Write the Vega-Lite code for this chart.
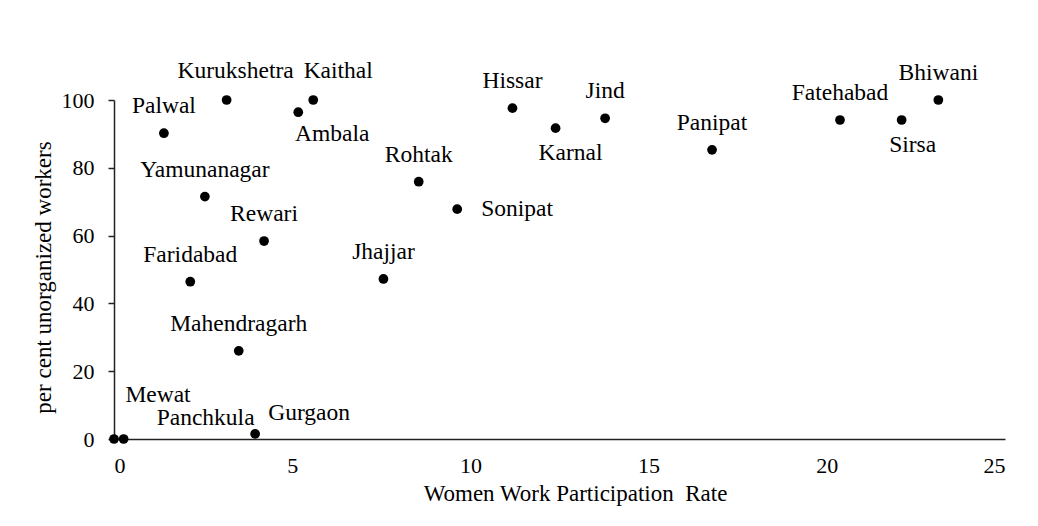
{
  "$schema": "https://vega.github.io/schema/vega-lite/v6.json",
  "width": 891,
  "height": 339,
  "autosize": {"type": "none"},
  "padding": {"left": 114, "top": 100, "right": 33, "bottom": 87},
  "background": "white",
  "config": {
    "view": {"stroke": null},
    "font": "Liberation Serif",
    "text": {"font": "Liberation Serif", "fontSize": 23.5, "color": "#000", "baseline": "alphabetic"},
    "axis": {
      "grid": false,
      "domainColor": "#222",
      "domainWidth": 1.5,
      "tickColor": "#222",
      "tickWidth": 1.5,
      "labelFont": "Liberation Serif",
      "titleFont": "Liberation Serif",
      "labelFontSize": 22,
      "titleFontSize": 23,
      "titleFontWeight": "normal",
      "labelColor": "#000",
      "titleColor": "#000"
    }
  },
  "data": {
    "values": [
      {"district": "Mewat", "wwpr": 0.0, "unorg": 0},
      {"district": "Panchkula", "wwpr": 0.27, "unorg": 0},
      {"district": "Palwal", "wwpr": 1.4, "unorg": 90.2},
      {"district": "Faridabad", "wwpr": 2.14, "unorg": 46.4},
      {"district": "Yamunanagar", "wwpr": 2.55, "unorg": 71.5},
      {"district": "Kurukshetra", "wwpr": 3.16, "unorg": 100},
      {"district": "Mahendragarh", "wwpr": 3.5, "unorg": 26.0},
      {"district": "Gurgaon", "wwpr": 3.96, "unorg": 1.5},
      {"district": "Rewari", "wwpr": 4.21, "unorg": 58.4},
      {"district": "Ambala", "wwpr": 5.17, "unorg": 96.4},
      {"district": "Kaithal", "wwpr": 5.59, "unorg": 100},
      {"district": "Jhajjar", "wwpr": 7.56, "unorg": 47.2},
      {"district": "Rohtak", "wwpr": 8.55, "unorg": 75.9},
      {"district": "Sonipat", "wwpr": 9.63, "unorg": 67.8},
      {"district": "Hissar", "wwpr": 11.18, "unorg": 97.6},
      {"district": "Karnal", "wwpr": 12.39, "unorg": 91.7},
      {"district": "Jind", "wwpr": 13.78, "unorg": 94.6},
      {"district": "Panipat", "wwpr": 16.78, "unorg": 85.3},
      {"district": "Fatehabad", "wwpr": 20.37, "unorg": 94.1},
      {"district": "Sirsa", "wwpr": 22.1, "unorg": 94.1},
      {"district": "Bhiwani", "wwpr": 23.13, "unorg": 100}
    ]
  },
  "encoding": {
    "x": {
      "field": "wwpr",
      "type": "quantitative",
      "scale": {"domain": [0, 25], "nice": false, "zero": false},
      "axis": {
        "title": "Women Work Participation\u00a0 Rate",
        "values": [0, 5, 10, 15, 20, 25],
        "ticks": false,
        "labelPadding": 16,
        "titlePadding": 6,
        "titleX": 461
      }
    },
    "y": {
      "field": "unorg",
      "type": "quantitative",
      "scale": {"domain": [0, 100], "nice": false},
      "axis": {
        "title": "per cent unorganized workers",
        "values": [0, 20, 40, 60, 80, 100],
        "tickSize": 6,
        "labelPadding": 14,
        "titlePadding": 6,
        "titleY": 177
      }
    }
  },
  "layer": [
    {"mark": {"type": "circle", "size": 95, "color": "#000", "opacity": 1}},
    {
      "transform": [{"filter": {"field": "district", "oneOf": ["Palwal", "Yamunanagar", "Rewari", "Faridabad", "Mahendragarh", "Jhajjar", "Rohtak", "Hissar", "Jind", "Panipat", "Fatehabad", "Bhiwani"]}}],
      "mark": {"type": "text", "dy": -20},
      "encoding": {"text": {"field": "district"}}
    },
    {
      "transform": [{"filter": {"field": "district", "equal": "Kurukshetra"}}],
      "mark": {"type": "text", "dx": 9, "dy": -22},
      "encoding": {"text": {"field": "district"}}
    },
    {
      "transform": [{"filter": {"field": "district", "equal": "Kaithal"}}],
      "mark": {"type": "text", "dx": 25, "dy": -22},
      "encoding": {"text": {"field": "district"}}
    },
    {
      "transform": [{"filter": {"field": "district", "equal": "Ambala"}}],
      "mark": {"type": "text", "dx": 34, "dy": 29},
      "encoding": {"text": {"field": "district"}}
    },
    {
      "transform": [{"filter": {"field": "district", "equal": "Karnal"}}],
      "mark": {"type": "text", "dx": 15, "dy": 32},
      "encoding": {"text": {"field": "district"}}
    },
    {
      "transform": [{"filter": {"field": "district", "equal": "Sirsa"}}],
      "mark": {"type": "text", "dx": 11, "dy": 32},
      "encoding": {"text": {"field": "district"}}
    },
    {
      "transform": [{"filter": {"field": "district", "equal": "Sonipat"}}],
      "mark": {"type": "text", "align": "left", "dx": 24, "dy": 7},
      "encoding": {"text": {"field": "district"}}
    },
    {
      "transform": [{"filter": {"field": "district", "equal": "Mewat"}}],
      "mark": {"type": "text", "dx": 44, "dy": -37},
      "encoding": {"text": {"field": "district"}}
    },
    {
      "transform": [{"filter": {"field": "district", "equal": "Panchkula"}}],
      "mark": {"type": "text", "dx": 82, "dy": -14},
      "encoding": {"text": {"field": "district"}}
    },
    {
      "transform": [{"filter": {"field": "district", "equal": "Gurgaon"}}],
      "mark": {"type": "text", "dx": 54, "dy": -14},
      "encoding": {"text": {"field": "district"}}
    }
  ]
}
